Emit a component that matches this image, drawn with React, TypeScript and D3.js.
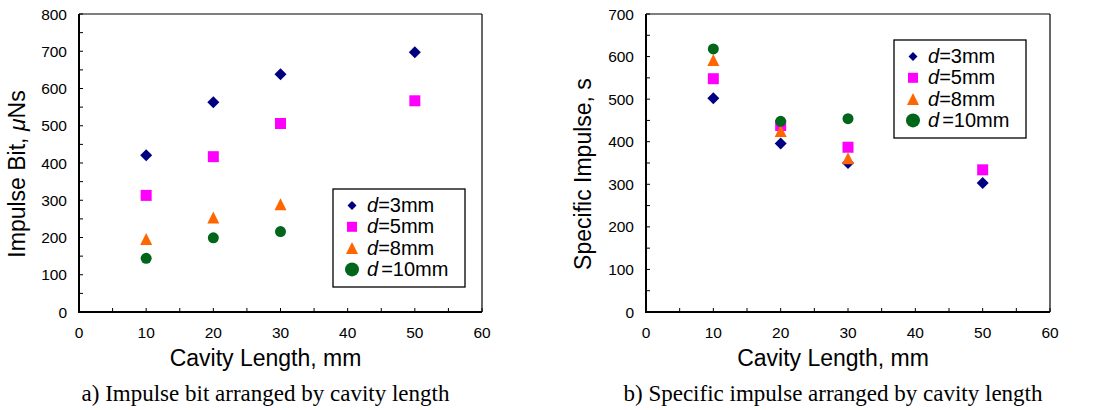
import React from "react";
import * as d3 from "d3";

// ---- data ----
const cavityLengths = [10, 20, 30, 50];
const cavityLengthsShort = [10, 20, 30];

const seriesNames = ["3mm", "5mm", "8mm", "10mm"];

// Impulse bit (µNs)
const ibD3 = [421, 563, 638, 697];
const ibD5 = [313, 417, 506, 567];
const ibD8 = [196, 254, 289];
const ibD10 = [144, 199, 216];

// Specific impulse (s)
const ispD3 = [502, 396, 350, 303];
const ispD5 = [548, 438, 387, 334];
const ispD8 = [592, 425, 361];
const ispD10 = [618, 448, 454];

const xTicks = [0, 10, 20, 30, 40, 50, 60];
const ibTicks = [0, 100, 200, 300, 400, 500, 600, 700, 800];
const ispTicks = [0, 100, 200, 300, 400, 500, 600, 700];

const colors = ["#000080", "#FF00FF", "#FF6600", "#006619"];
const shapes = ["diamond", "square", "triangle", "circle"];

function markerPath(shape: string, w: number): string {
  const h = w / 2;
  if (shape === "diamond") {
    return `M0,${-h}L${h},0L0,${h}L${-h},0Z`;
  }
  if (shape === "square") {
    return `M${-h},${-h}H${h}V${h}H${-h}Z`;
  }
  if (shape === "triangle") {
    return `M0,${-h}L${h},${h}L${-h},${h}Z`;
  }
  const p = d3.path();
  p.arc(0, 0, h, 0, Math.PI * 2);
  p.closePath();
  return p.toString();
}

const plotMarkerSize: Record<string, number> = { diamond: 12, square: 11, triangle: 12, circle: 11 };
const legendMarkerSize: Record<string, number> = { diamond: 9, square: 10, triangle: 12, circle: 14 };

interface PanelProps {
  left: number;
  right: number;
  top: number;
  bottom: number;
  yMax: number;
  yTicks: number[];
  series: { xs: number[]; ys: number[] }[];
  yTitle: React.ReactNode;
  yTitleX: number;
  caption: string;
  legendX: number;
  legendY: number;
}

function Panel(p: PanelProps) {
  const x = d3.scaleLinear().domain([0, 60]).range([p.left, p.right]);
  const y = d3.scaleLinear().domain([0, p.yMax]).range([p.bottom, p.top]);
  const minorX = d3.range(0, 61, 5);
  const minorY = d3.range(0, p.yMax + 1, 50);
  const cx = (p.left + p.right) / 2 - 15;
  const tickFont = "Liberation Sans, Arial, sans-serif";
  return (
    <g>
      {/* frame */}
      <line x1={p.left} x2={p.right} y1={p.top} y2={p.top} stroke="#000" strokeWidth={1.2} />
      <line x1={p.right} x2={p.right} y1={p.top} y2={p.bottom} stroke="#000" strokeWidth={1.2} />
      {/* ticks */}
      {minorX.map((t) => (
        <line key={"mx" + t} x1={x(t)} x2={x(t)} y1={p.bottom} y2={p.bottom - 4} stroke="#000" strokeWidth={1} />
      ))}
      {minorY.map((t) => (
        <line key={"my" + t} x1={p.left} x2={p.left + 4} y1={y(t)} y2={y(t)} stroke="#000" strokeWidth={1} />
      ))}
      <line x1={p.left} x2={p.right} y1={p.bottom} y2={p.bottom} stroke="#000" strokeWidth={2} />
      <line x1={p.left} x2={p.left} y1={p.top} y2={p.bottom + 1} stroke="#000" strokeWidth={2} />
      {xTicks.map((t) => (
        <text key={"xt" + t} x={x(t)} y={338} textAnchor="middle" fontFamily={tickFont} fontSize={15.5} fill="#000">
          {t}
        </text>
      ))}
      {p.yTicks.map((t) => (
        <text key={"yt" + t} x={p.left - 12} y={y(t) + 5.5} textAnchor="end" fontFamily={tickFont} fontSize={15.5} fill="#000">
          {t}
        </text>
      ))}
      {/* axis titles */}
      <text x={cx} y={366} textAnchor="middle" fontFamily={tickFont} fontSize={23} fill="#000">
        Cavity Length, mm
      </text>
      <text
        transform={`translate(${p.yTitleX},${174}) rotate(-90)`}
        textAnchor="middle"
        fontFamily={tickFont}
        fontSize={23}
        fill="#000"
      >
        {p.yTitle}
      </text>
      {/* caption */}
      <text x={cx} y={401} textAnchor="middle" fontFamily="Liberation Serif, Times New Roman, serif" fontSize={23} fill="#000">
        {p.caption}
      </text>
      {/* data */}
      {p.series.map((s, i) => (
        <g key={"s" + i} fill={colors[i]}>
          {s.xs.map((xv, j) => (
            <path
              key={j}
              transform={`translate(${x(xv)},${y(s.ys[j])})`}
              d={markerPath(shapes[i], plotMarkerSize[shapes[i]])}
            />
          ))}
        </g>
      ))}
      {/* legend */}
      <g transform={`translate(${p.legendX},${p.legendY})`}>
        <rect x={0} y={0} width={132} height={98} fill="#fff" stroke="#000" strokeWidth={1.3} />
        {seriesNames.map((n, i) => {
          const ry = 16.5 + i * 21.3;
          return (
            <g key={n}>
              <path transform={`translate(19,${ry})`} d={markerPath(shapes[i], legendMarkerSize[shapes[i]])} fill={colors[i]} />
              <text x={34} y={ry + 6.5} fontFamily={tickFont} fontSize={20} fill="#000">
                <tspan fontStyle="italic">d</tspan>
                <tspan dx={n === "10mm" ? 3 : 0}>{"=" + n}</tspan>
              </text>
            </g>
          );
        })}
      </g>
    </g>
  );
}

export default function App() {
  const ibSeries = [
    { xs: cavityLengths, ys: ibD3 },
    { xs: cavityLengths, ys: ibD5 },
    { xs: cavityLengthsShort, ys: ibD8 },
    { xs: cavityLengthsShort, ys: ibD10 },
  ];
  const ispSeries = [
    { xs: cavityLengths, ys: ispD3 },
    { xs: cavityLengths, ys: ispD5 },
    { xs: cavityLengthsShort, ys: ispD8 },
    { xs: cavityLengthsShort, ys: ispD10 },
  ];
  return (
    <div style={{ position: "fixed", left: 0, top: 0, background: "#fff" }}>
      <svg width={1099} height={410} style={{ display: "block" }}>
        <rect width={1099} height={410} fill="#fff" />
        <Panel
          left={79}
          right={482}
          top={14}
          bottom={312}
          yMax={800}
          yTicks={ibTicks}
          series={ibSeries}
          yTitle={
            <>
              Impulse Bit, <tspan fontStyle="italic">μ</tspan>Ns
            </>
          }
          yTitleX={25}
          caption="a) Impulse bit arranged by cavity length"
          legendX={333}
          legendY={189}
        />
        <Panel
          left={646}
          right={1050}
          top={14}
          bottom={312}
          yMax={700}
          yTicks={ispTicks}
          series={ispSeries}
          yTitle="Specific Impulse, s"
          yTitleX={591}
          caption="b) Specific impulse arranged by cavity length"
          legendX={894}
          legendY={40}
        />
      </svg>
    </div>
  );
}
